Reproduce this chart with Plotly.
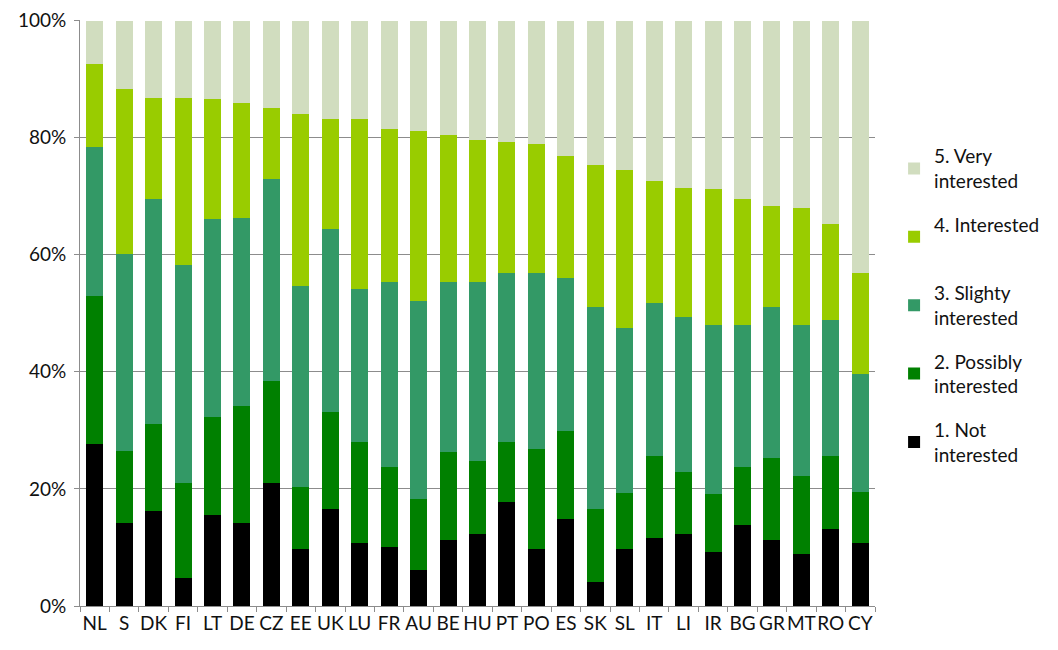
import plotly.graph_objects as go

countries = ["NL", "S", "DK", "FI", "LT", "DE", "CZ", "EE", "UK", "LU", "FR", "AU", "BE", "HU",
             "PT", "PO", "ES", "SK", "SL", "IT", "LI", "IR", "BG", "GR", "MT", "RO", "CY"]

# shares in percent, one list per answer
not_interested = [27.7, 14.2, 16.3, 4.7, 15.6, 14.1, 21.0, 9.8, 16.6, 10.8, 10.1, 6.2, 11.3, 12.3,
                  17.8, 9.8, 14.9, 4.1, 9.8, 11.7, 12.3, 9.3, 13.9, 11.3, 8.9, 13.2, 10.8]
possibly = [25.2, 12.3, 14.8, 16.3, 16.7, 20.1, 17.5, 10.6, 16.6, 17.3, 13.7, 12.1, 15.0, 12.5,
            10.3, 17.1, 15.0, 12.5, 9.5, 14.0, 10.6, 9.9, 9.9, 14.0, 13.3, 12.5, 8.7]
slightly = [25.5, 33.6, 38.4, 37.2, 33.8, 32.1, 34.4, 34.3, 31.2, 26.1, 31.5, 33.8, 29.0, 30.5,
            28.8, 30.0, 26.1, 34.5, 28.2, 26.1, 26.5, 28.8, 24.2, 25.8, 25.8, 23.2, 20.1]
interested = [14.2, 28.2, 17.3, 28.6, 20.5, 19.6, 12.1, 29.4, 18.8, 29.0, 26.1, 29.1, 25.2, 24.3,
              22.3, 22.0, 20.9, 24.3, 26.9, 20.8, 22.0, 23.2, 21.5, 17.3, 20.0, 16.3, 17.3]
very = [7.4, 11.7, 13.2, 13.2, 13.4, 14.1, 15.0, 15.9, 16.8, 16.8, 18.6, 18.8, 19.5, 20.4,
        20.8, 21.1, 23.1, 24.6, 25.6, 27.4, 28.6, 28.8, 30.5, 31.6, 32.0, 34.8, 43.1]

y_ticks = [0, 20, 40, 60, 80, 100]
y_labels = ["0%", "20%", "40%", "60%", "80%", "100%"]

series = [
    ("1. Not<br>interested", not_interested, "#000000"),
    ("2. Possibly<br>interested", possibly, "#008000"),
    ("3. Slighty<br>interested", slightly, "#339966"),
    ("4. Interested<br>&nbsp;", interested, "#99cc00"),
    ("5. Very<br>interested", very, "#d1ddbf"),
]

fig = go.Figure()
for n, (name, vals, col) in enumerate(series):
    fig.add_trace(go.Bar(x=countries, y=vals, name=name, marker_color=col,
                         marker_line_width=0, legendgroup=name, legendrank=10 - n))

fig.update_layout(
    barmode="stack",
    barnorm="percent",
    bargap=0.42,
    width=1050, height=642,
    margin=dict(l=72, r=183, t=12, b=44),
    plot_bgcolor="white", paper_bgcolor="white",
    font=dict(family="Lato, Open Sans, sans-serif", size=19, color="#111111"),
    showlegend=True,
    legend=dict(x=1.024, xanchor="left", y=0.80, yanchor="top",
                traceorder="grouped", tracegroupgap=16,
                font=dict(size=19)),
)
fig.update_yaxes(range=[0, 100.1], tickvals=y_ticks, ticktext=y_labels,
                 showgrid=True, gridcolor="#8c8c8c", gridwidth=1, showline=True,
                 linecolor="#8c8c8c", ticks="outside", ticklen=5, tickcolor="#8c8c8c",
                 zeroline=False, automargin=False, ticklabeloverflow="allow",
                 ticklabelstandoff=4)
fig.update_xaxes(showline=True, linecolor="#8c8c8c", ticks="outside", ticklen=5,
                 tickcolor="#8c8c8c", tickson="boundaries", tickangle=0, automargin=False)

fig.write_html("out.html")
